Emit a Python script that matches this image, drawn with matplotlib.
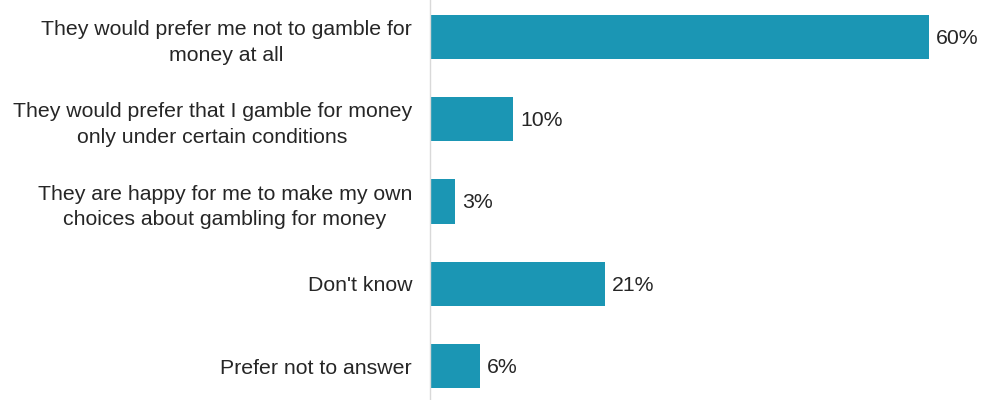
import matplotlib.pyplot as plt
import matplotlib.transforms as mtransforms

plt.rcParams['font.family'] = ['Liberation Sans', 'DejaVu Sans']

categories = [
    "They would prefer me not to gamble for\nmoney at all",
    "They would prefer that I gamble for money\nonly under certain conditions",
    "They are happy for me to make my own\nchoices about gambling for money",
    "Don't know",
    "Prefer not to answer",
]
values = [60, 10, 3, 21, 6]

fig = plt.figure(figsize=(9.81, 4.0), dpi=100)
ax = fig.add_axes([430 / 981, 0, 551 / 981, 1])

ypos = list(range(len(categories)))
ax.barh(ypos, values, height=0.54, color='#1b96b4')

for y, v in zip(ypos, values):
    ax.annotate(f"{v}%", (v, y), xytext=(5, -1), textcoords='offset points',
                va='center', ha='left', fontsize=15.3, color='#262626')

ax.set_xlim(0, 551 / 8.32)
ax.set_ylim((400 - 37) / 82.25, -37 / 82.25)

ax.set_yticks(ypos)
ax.set_yticklabels(categories, fontsize=15.3, color='#262626', ha='center',
                   multialignment='center', linespacing=1.45)
ax.tick_params(axis='y', length=0, pad=0)
ax.set_xticks([])

# shift centred labels so their right edge sits just left of the axis
fig.canvas.draw()
r = fig.canvas.get_renderer()
for lab in ax.get_yticklabels():
    bb = lab.get_window_extent(r)
    shift = (430 - 18) - bb.x1
    lab.set_transform(lab.get_transform() +
                      mtransforms.ScaledTranslation(shift / 100, 0, fig.dpi_scale_trans))

for s in ['top', 'right', 'bottom']:
    ax.spines[s].set_visible(False)
ax.spines['left'].set_color('#d9d9d9')
ax.spines['left'].set_linewidth(1)

fig.savefig('out.png', dpi=100)
